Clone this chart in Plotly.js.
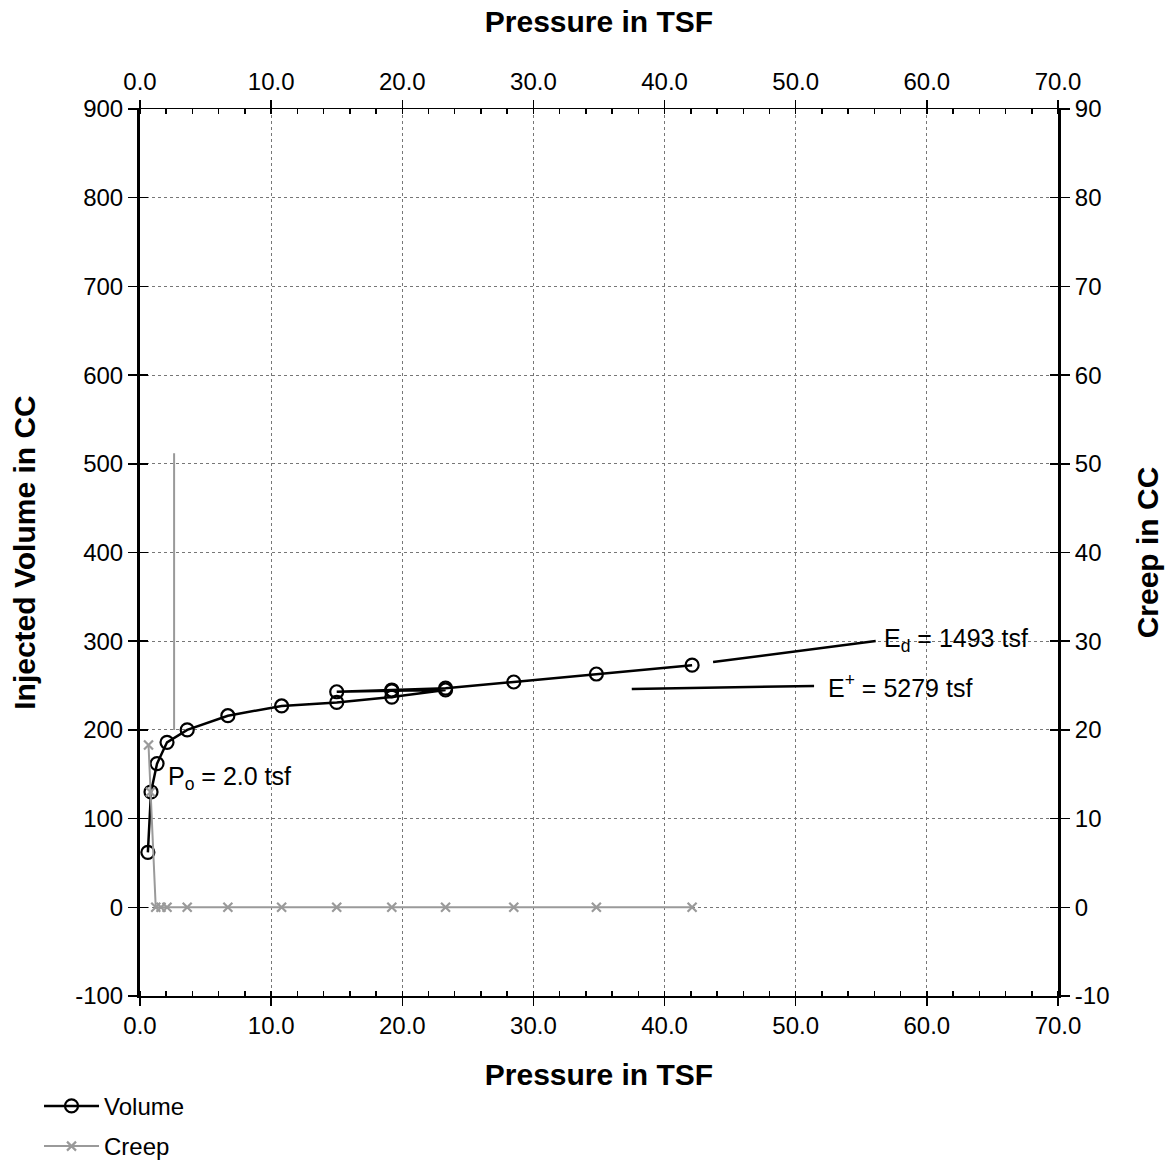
<!DOCTYPE html>
<html>
<head>
<meta charset="utf-8">
<script src="https://cdn.plot.ly/plotly-3.0.1.min.js"></script>
<style>html,body{margin:0;padding:0;background:#fff;}#chart{width:1169px;height:1164px;}</style>
</head>
<body>
<div id="chart"></div>
<script>
// Volume series (pressure in TSF, injected volume in CC)
const volPressure = [0.6, 0.84, 1.3, 2.06, 3.6, 6.7, 10.8, 15.0, 19.2, 23.3, 19.2, 15.0, 19.2, 23.3, 28.5, 34.8, 42.1];
const volValues   = [62, 130, 162, 186, 200, 216, 227, 231, 237, 245, 244, 243, 245, 247, 254, 263, 273];
// Creep series (pressure in TSF, creep in CC)
const creepPressure = [0.65, 0.8, 1.2, 1.6, 2.06, 3.6, 6.7, 10.8, 15.0, 19.2, 23.3, 28.5, 34.8, 42.1];
const creepValues   = [18.3, 13, 0, 0, 0, 0, 0, 0, 0, 0, 0, 0, 0, 0];
// Po marker line
const poLineX = [2.6, 2.6];
const poLineY = [200, 512];
// Modulus fit lines
const edLineX = [43.7, 56.1];
const edLineY = [276.6, 300.2];
const epLineX = [37.5, 51.4];
const epLineY = [246.1, 249.5];
// Tick labels
const xTicks = [0, 10, 20, 30, 40, 50, 60, 70];
const xTickText = ['0.0', '10.0', '20.0', '30.0', '40.0', '50.0', '60.0', '70.0'];
const yTicks = [-100, 0, 100, 200, 300, 400, 500, 600, 700, 800, 900];
const yTickText = ['-100', '0', '100', '200', '300', '400', '500', '600', '700', '800', '900'];
const y2Ticks = [-10, 0, 10, 20, 30, 40, 50, 60, 70, 80, 90];
const y2TickText = ['-10', '0', '10', '20', '30', '40', '50', '60', '70', '80', '90'];

const font = 'Liberation Sans, Arial, sans-serif';
const gridColor = '#777';

const traces = [
  {x: poLineX, y: poLineY, xaxis: 'x', yaxis: 'y', mode: 'lines', line: {color: '#999', width: 2}, showlegend: false, hoverinfo: 'skip'},
  {x: edLineX, y: edLineY, xaxis: 'x', yaxis: 'y', mode: 'lines', line: {color: '#000', width: 2.5}, showlegend: false, hoverinfo: 'skip'},
  {x: epLineX, y: epLineY, xaxis: 'x', yaxis: 'y', mode: 'lines', line: {color: '#000', width: 2.5}, showlegend: false, hoverinfo: 'skip'},
  {name: 'Volume', x: volPressure, y: volValues, xaxis: 'x', yaxis: 'y', mode: 'lines+markers',
   line: {color: '#000', width: 2.5}, marker: {symbol: 'circle-open', size: 13, color: '#000', line: {width: 2.2, color: '#000'}},
   legendgroup: 'a'},
  {name: 'Creep', x: creepPressure, y: creepValues, xaxis: 'x', yaxis: 'y2', mode: 'lines+markers',
   line: {color: '#9a9a9a', width: 2}, marker: {symbol: 'x-thin-open', size: 9, color: '#9a9a9a', line: {width: 2.2, color: '#9a9a9a'}},
   legendgroup: 'b'},
  {x: [0, 70], y: [0, 0], xaxis: 'x2', yaxis: 'y', mode: 'lines', line: {width: 0}, opacity: 0, showlegend: false, hoverinfo: 'skip'},
  {x: [0, 70], y: [0, 0], xaxis: 'x', yaxis: 'y3', mode: 'lines', line: {width: 0}, opacity: 0, showlegend: false, hoverinfo: 'skip'},
  {x: [0, 70], y: [0, 0], xaxis: 'x', yaxis: 'y4', mode: 'lines', line: {width: 0}, opacity: 0, showlegend: false, hoverinfo: 'skip'}
];

const tickFontSize = 24;
const titleFont = {size: 30};

const layout = {
  width: 1169, height: 1164,
  margin: {l: 140, r: 111, t: 109, b: 168, autoexpand: false},
  paper_bgcolor: '#fff', plot_bgcolor: '#fff',
  font: {family: font, color: '#000', size: tickFontSize},
  showlegend: true,
  legend: {x: -0.11, y: -0.099, xanchor: 'left', yanchor: 'top', orientation: 'v',
           font: {family: font, size: 24, color: '#000'}, tracegroupgap: 6, traceorder: 'grouped',
           itemwidth: 55, bgcolor: 'rgba(0,0,0,0)'},
  xaxis: {range: [0, 70], tickvals: xTicks, ticktext: xTickText, side: 'bottom',
          showline: true, linecolor: '#000', linewidth: 1.5, ticks: 'outside', ticklen: 8, tickcolor: '#000', tickwidth: 1.5,
          showgrid: true, gridcolor: gridColor, griddash: 'dot', gridwidth: 1, zeroline: false,
          minor: {dtick: 2, ticks: 'inside', ticklen: 5, tickcolor: '#000', showgrid: false},
          tickfont: {size: tickFontSize}, title: {text: '<b>Pressure in TSF</b>', font: titleFont, standoff: 25}},
  xaxis2: {range: [0, 70], tickvals: xTicks, ticktext: xTickText, side: 'top', overlaying: 'x',
           showline: true, linecolor: '#000', linewidth: 1.5, ticks: 'outside', ticklen: 8, tickcolor: '#000', tickwidth: 1.5,
           showgrid: false, zeroline: false,
           minor: {dtick: 2, ticks: 'inside', ticklen: 5, tickcolor: '#000', showgrid: false},
           tickfont: {size: tickFontSize}, title: {text: '<b>Pressure in TSF</b>', font: titleFont, standoff: 26}},
  yaxis: {range: [-100, 900], tickvals: yTicks, ticktext: yTickText, side: 'left',
          showline: true, linecolor: '#000', linewidth: 3, ticks: 'outside', ticklen: 9, tickcolor: '#000', tickwidth: 1.5,
          showgrid: true, gridcolor: gridColor, griddash: 'dot', gridwidth: 1, zeroline: false,
          tickfont: {size: tickFontSize}, title: {text: '<b>Injected Volume in CC</b>', font: titleFont, standoff: 31}},
  yaxis2: {range: [-10, 90], tickvals: y2Ticks, ticktext: y2TickText, side: 'right', overlaying: 'y',
           showline: true, linecolor: '#000', linewidth: 3, ticks: 'outside', ticklen: 9, tickcolor: '#000', tickwidth: 1.5,
           showgrid: false, zeroline: false,
           tickfont: {size: tickFontSize}, title: {text: '<b>Creep in CC</b>', font: titleFont, standoff: 29}},
  yaxis3: {range: [-100, 900], tickvals: yTicks, side: 'left', overlaying: 'y', showticklabels: false,
           showline: false, ticks: 'inside', ticklen: 8, tickcolor: '#000', tickwidth: 1.5, showgrid: false, zeroline: false},
  yaxis4: {range: [-100, 900], tickvals: yTicks, side: 'right', overlaying: 'y', showticklabels: false,
           showline: false, ticks: 'inside', ticklen: 8, tickcolor: '#000', tickwidth: 1.5, showgrid: false, zeroline: false},
  annotations: [
    {x: 2.0, y: 146, xref: 'x', yref: 'y', text: 'P<sub>o</sub> = 2.0 tsf', showarrow: false, xanchor: 'left', yanchor: 'middle', font: {size: 25}},
    {x: 56.6, y: 301, xref: 'x', yref: 'y', text: 'E<sub>d</sub> = 1493 tsf', showarrow: false, xanchor: 'left', yanchor: 'middle', font: {size: 25}},
    {x: 52.3, y: 249, xref: 'x', yref: 'y', text: 'E<sup>+</sup> = 5279 tsf', showarrow: false, xanchor: 'left', yanchor: 'middle', font: {size: 25}}
  ]
};

Plotly.newPlot('chart', traces, layout, {displayModeBar: false, staticPlot: true});
</script>
</body>
</html>
